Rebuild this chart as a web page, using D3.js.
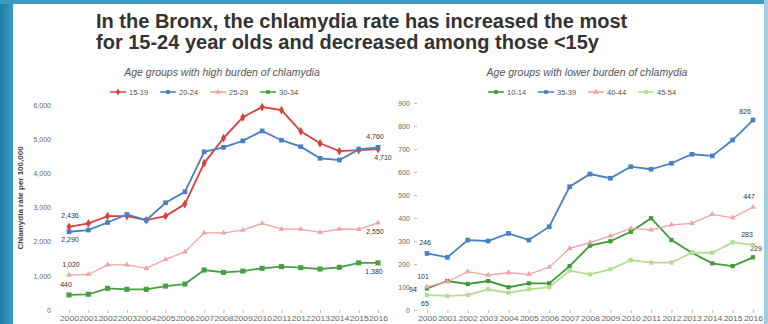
<!DOCTYPE html>
<html>
<head>
<meta charset="utf-8">
<script src="https://cdn.jsdelivr.net/npm/d3@7"></script>
<style>
  body { margin: 0; background: #fff; }
  svg { display: block; font-family: "Liberation Sans", Arial, sans-serif; }
</style>
</head>
<body>
<div class="chartContainer"></div>
<script>
const years = ['2000', '2001', '2002', '2003', '2004', '2005', '2006', '2007', '2008',
               '2009', '2010', '2011', '2012', '2013', '2014', '2015', '2016'];

// high burden panel (rate per 100,000)
const highGroups = ['15-19', '20-24', '25-29', '30-34'];
const rate15to19 = [2436, 2535, 2750, 2750, 2630, 2750, 3100, 4300, 5030, 5640, 5940, 5850, 5230, 4880, 4650, 4680, 4710];
const rate20to24 = [2290, 2340, 2560, 2800, 2630, 3140, 3460, 4630, 4760, 4950, 5240, 4970, 4780, 4440, 4390, 4700, 4760];
const rate25to29 = [1020, 1040, 1320, 1320, 1220, 1480, 1700, 2260, 2260, 2340, 2535, 2370, 2370, 2270, 2370, 2360, 2550];
const rate30to34 = [440, 460, 635, 605, 605, 700, 760, 1170, 1100, 1140, 1220, 1270, 1240, 1200, 1250, 1380, 1380];
const highTicks = [0, 1000, 2000, 3000, 4000, 5000, 6000];

// lower burden panel
const lowGroups = ['10-14', '35-39', '40-44', '45-54'];
const rate10to14 = [94, 126, 113, 126, 99, 116, 116, 191, 280, 299, 340, 399, 304, 249, 203, 191, 229];
const rate35to39 = [246, 229, 304, 300, 333, 304, 362, 536, 591, 573, 623, 612, 638, 677, 670, 739, 826];
const rate40to44 = [101, 123, 167, 152, 162, 155, 186, 268, 293, 322, 355, 348, 370, 377, 416, 401, 447];
const rate45to54 = [65, 61, 65, 90, 75, 90, 99, 171, 155, 177, 217, 206, 206, 249, 249, 294, 283];
const lowTicks = [0, 100, 200, 300, 400, 500, 600, 700, 800, 900];

const width = 768, height = 324;

const svg = d3.select(".chartContainer")
  .append("svg")
  .attr("width", width)
  .attr("height", height);

// slide frame
const grad = svg.append("defs").append("linearGradient").attr("id", "frame");
grad.append("stop").attr("offset", "0%").attr("stop-color", "#1d7ea6");
grad.append("stop").attr("offset", "100%").attr("stop-color", "#3a9cc0");
svg.append("rect").attr("width", width).attr("height", height).attr("fill", "#fff");
svg.append("rect").attr("x", 0).attr("y", 0).attr("width", 13).attr("height", height).attr("fill", "url(#frame)");
svg.append("rect").attr("x", 0).attr("y", 0).attr("width", width).attr("height", 4).attr("fill", "#3a9cc0");
svg.append("rect").attr("x", width - 4).attr("y", 0).attr("width", 4).attr("height", height).attr("fill", "#9fd0e2");

// title
const title = svg.append("text")
  .attr("font-size", 20)
  .attr("font-weight", "bold")
  .attr("fill", "#333");
title.append("tspan").attr("x", 96).attr("y", 28)
  .text("In the Bronx, the chlamydia rate has increased the most");
title.append("tspan").attr("x", 96).attr("y", 49)
  .text("for 15-24 year olds and decreased among those <15y");

// y axis title on the left panel
svg.append("text")
  .attr("transform", "translate(23,198) rotate(-90)")
  .attr("text-anchor", "middle")
  .attr("font-size", 8)
  .attr("font-weight", "bold")
  .attr("fill", "#444")
  .text("Chlamydia rate per 100,000");

function drawPanel(opts) {
  const x = d3.scalePoint().domain(years).range(opts.xRange);
  const y = d3.scaleLinear().domain(opts.yDomain).range([310, opts.yTop]);

  const g = svg.append("g");

  g.append("text")
    .attr("x", opts.titleX)
    .attr("y", 76)
    .attr("text-anchor", "middle")
    .attr("font-size", 10.5)
    .attr("font-style", "italic")
    .attr("fill", "#555")
    .text(opts.title);

  // y axis: labels only, short tick marks
  const yAxis = d3.axisLeft(y).tickValues(opts.ticks).tickFormat(d3.format(",")).tickSize(opts.tickSize).tickPadding(4);
  const ya = g.append("g")
    .attr("transform", "translate(" + opts.axisX + ",0)")
    .call(yAxis);
  ya.select(".domain").remove();
  ya.selectAll("line").attr("stroke", "#bbb");
  ya.selectAll("text").attr("font-size", 7).attr("fill", "#666").attr("font-family", "Liberation Sans, Arial");

  // x axis: crowded year labels
  const xAxis = d3.axisBottom(x).tickSize(3).tickPadding(3);
  const xa = g.append("g")
    .attr("transform", "translate(0,310)")
    .call(xAxis);
  xa.select(".domain").remove();
  xa.selectAll("line").attr("stroke", "#bbb");
  xa.selectAll("text").attr("font-size", 7.5).attr("fill", "#666").attr("font-family", "Liberation Sans, Arial")
    .attr("textLength", 19).attr("lengthAdjust", "spacingAndGlyphs");

  // legend
  const leg = g.append("g").attr("transform", "translate(" + opts.legendX + ",92)");
  opts.series.forEach(function (s, i) {
    const lx = i * 50;
    leg.append("line").attr("x1", lx).attr("x2", lx + 16).attr("y1", 0).attr("y2", 0)
      .attr("stroke", s.color).attr("stroke-width", 1.5);
    leg.append("path").attr("d", d3.symbol().type(s.symbol).size(14)())
      .attr("transform", "translate(" + (lx + 8) + ",0)").attr("fill", s.color);
    leg.append("text").attr("x", lx + 19).attr("y", 2.5).attr("font-size", 7.5).attr("fill", "#555").text(s.name);
  });

  const line = d3.line()
    .x(function (d, i) { return x(years[i]); })
    .y(function (d) { return y(d); });

  opts.series.forEach(function (s) {
    g.append("path")
      .datum(s.values)
      .attr("fill", "none")
      .attr("stroke", s.color)
      .attr("stroke-width", s.width)
      .attr("d", line);

    g.selectAll(null)
      .data(s.values)
      .enter()
      .append("path")
      .attr("d", d3.symbol().type(s.symbol).size(s.size)())
      .attr("transform", function (d, i) { return "translate(" + x(years[i]) + "," + y(d) + ")"; })
      .attr("fill", s.color);

    // first and last value labels
    const n = s.values.length - 1;
    [[0, s.startOff], [n, s.endOff]].forEach(function (p) {
      g.append("text")
        .attr("x", x(years[p[0]]) + p[1][0])
        .attr("y", y(s.values[p[0]]) + p[1][1])
        .attr("text-anchor", "middle")
        .attr("font-size", 7)
        .attr("fill", "#333")
        .text(d3.format(",")(s.values[p[0]]));
    });
  });
}

drawPanel({
  title: "Age groups with high burden of chlamydia",
  titleX: 222,
  xRange: [69, 378],
  yDomain: [0, 6000],
  yTop: 105,
  ticks: highTicks,
  axisX: 55,
  tickSize: 0,
  legendX: 110,
  series: [
    { name: highGroups[0], values: rate15to19, color: "#d8413c", symbol: d3.symbolDiamond, size: 22, width: 1.8, startOff: [1, -9], endOff: [5, 11] },
    { name: highGroups[1], values: rate20to24, color: "#4a7fc0", symbol: d3.symbolSquare, size: 22, width: 1.8, startOff: [1, 10], endOff: [-3, -8] },
    { name: highGroups[2], values: rate25to29, color: "#f0a3a3", symbol: d3.symbolTriangle, size: 14, width: 1.3, startOff: [2, -8], endOff: [-3, 11] },
    { name: highGroups[3], values: rate30to34, color: "#4a9e44", symbol: d3.symbolSquare, size: 26, width: 1.8, startOff: [-3, -8], endOff: [-4, 11] }
  ]
});

drawPanel({
  title: "Age groups with lower burden of chlamydia",
  titleX: 587,
  xRange: [427, 753],
  yDomain: [0, 900],
  yTop: 103,
  ticks: lowTicks,
  axisX: 417,
  tickSize: 3,
  legendX: 488,
  series: [
    { name: lowGroups[0], values: rate10to14, color: "#3f9a3a", symbol: d3.symbolSquare, size: 18, width: 1.8, startOff: [-14, 4], endOff: [3, -6] },
    { name: lowGroups[1], values: rate35to39, color: "#4a7fc0", symbol: d3.symbolSquare, size: 22, width: 1.8, startOff: [-2, -8], endOff: [-8, -6] },
    { name: lowGroups[2], values: rate40to44, color: "#f0a3a3", symbol: d3.symbolTriangle, size: 14, width: 1.3, startOff: [-4, -8], endOff: [-4, -8] },
    { name: lowGroups[3], values: rate45to54, color: "#b3dc94", symbol: d3.symbolSquare, size: 18, width: 1.8, startOff: [-2, 11], endOff: [-6, -8] }
  ]
});
</script>
</body>
</html>
